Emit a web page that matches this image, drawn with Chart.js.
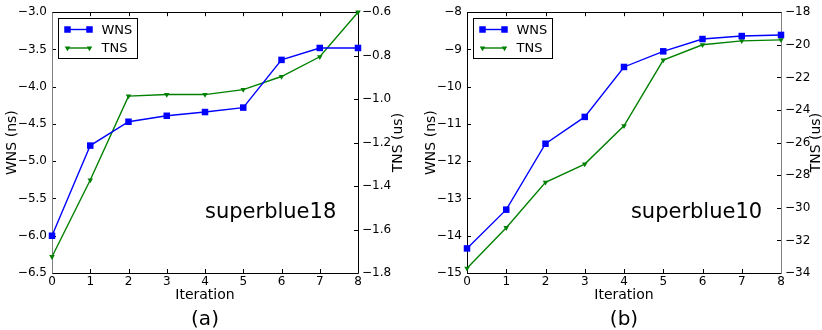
<!DOCTYPE html>
<html>
<head>
<meta charset="utf-8">
<script src="https://cdn.jsdelivr.net/npm/chart.js@4/dist/chart.umd.min.js"></script>
<style>
  html, body { margin: 0; padding: 0; background: #fff; }
  #wrap { position: relative; width: 822px; height: 330px; }
  canvas { position: absolute; top: 0; }
</style>
</head>
<body>
<div id="wrap">
  <canvas id="panelA" width="411" height="330" style="left:0"></canvas>
  <canvas id="panelB" width="411" height="330" style="left:411px"></canvas>
</div>
<script>
// Optimisation iterations shared by both designs
const iterations = [0, 1, 2, 3, 4, 5, 6, 7, 8];

// superblue18: worst negative slack (ns) and total negative slack (us)
const wns18 = [-6.00, -4.79, -4.47, -4.39, -4.34, -4.28, -3.64, -3.48, -3.48];
const tns18 = [-1.725, -1.372, -0.986, -0.979, -0.979, -0.956, -0.896, -0.805, -0.600];

// superblue10: worst negative slack (ns) and total negative slack (us)
const wns10 = [-14.34, -13.30, -11.53, -10.81, -9.47, -9.05, -8.72, -8.64, -8.61];
const tns10 = [-33.71, -31.22, -28.44, -27.32, -24.97, -20.94, -20.00, -19.76, -19.70];

// Axis tick values
const wnsTicks18 = [-6.5, -6.0, -5.5, -5.0, -4.5, -4.0, -3.5, -3.0];
const tnsTicks18 = [-1.8, -1.6, -1.4, -1.2, -1.0, -0.8, -0.6];
const wnsTicks10 = [-15, -14, -13, -12, -11, -10, -9, -8];
const tnsTicks10 = [-34, -32, -30, -28, -26, -24, -22, -20, -18];

const seriesNames = ['WNS', 'TNS'];
const FONT = 'DejaVu Sans';
Chart.defaults.color = '#000';
Chart.defaults.font.family = FONT;

function fmt(v, digits) {
  return (v < 0 ? '\u2212' : '') + Math.abs(v).toFixed(digits);
}

function useTicks(values) {
  return function (scale) { scale.ticks = values.map(v => ({ value: v })); };
}

// Frame with inward tick marks on all four sides (drawn under the data)
const framePlugin = {
  id: 'frame',
  beforeDatasetsDraw(chart, args, o) {
    const { ctx, chartArea: a, scales } = chart;
    const L = 4;
    ctx.save();
    ctx.lineWidth = 1;
    ctx.strokeStyle = '#000';
    ctx.beginPath();
    scales.x.ticks.forEach(t => {
      const px = Math.round(scales.x.getPixelForValue(t.value)) + 0.5;
      ctx.moveTo(px, a.bottom); ctx.lineTo(px, a.bottom - L);
      ctx.moveTo(px, a.top); ctx.lineTo(px, a.top + L);
    });
    scales.y.ticks.forEach(t => {
      const py = Math.round(scales.y.getPixelForValue(t.value)) + 0.5;
      ctx.moveTo(a.left, py); ctx.lineTo(a.left + L, py);
    });
    scales.y2.ticks.forEach(t => {
      const py = Math.round(scales.y2.getPixelForValue(t.value)) + 0.5;
      ctx.moveTo(a.right, py); ctx.lineTo(a.right - L, py);
    });
    ctx.stroke();
    const l = Math.round(a.left) + 0.5, r = Math.round(a.right) + 0.5;
    const t = Math.round(a.top) + 0.5, b = Math.round(a.bottom) + 0.5;
    ctx.beginPath();
    ctx.moveTo(l, t); ctx.lineTo(r, t);
    ctx.moveTo(l, b); ctx.lineTo(r, b);
    ctx.stroke();
    ctx.beginPath();
    ctx.strokeStyle = o.leftColor;
    ctx.moveTo(l, t); ctx.lineTo(l, b);
    ctx.stroke();
    ctx.beginPath();
    ctx.strokeStyle = o.rightColor;
    ctx.moveTo(r, t); ctx.lineTo(r, b);
    ctx.stroke();
    ctx.restore();
  }
};

// Boxed legend, design name, right-axis title (reading upwards) and panel letter
const notesPlugin = {
  id: 'notes',
  afterDatasetsDraw(chart, args, o) {
    const { ctx, chartArea: a } = chart;
    ctx.save();
    const bx = Math.round(a.left + 6) + 0.5, by = Math.round(a.top + 6) + 0.5;
    const bw = 79, bh = 40;
    ctx.fillStyle = '#fff';
    ctx.strokeStyle = '#000';
    ctx.lineWidth = 1;
    ctx.fillRect(bx, by, bw, bh);
    ctx.strokeRect(bx, by, bw, bh);
    chart.data.datasets.forEach((ds, i) => {
      const cy = by + 11 + i * 18.5;
      const x1 = bx + 9, x2 = bx + 31;
      ctx.strokeStyle = ds.borderColor;
      ctx.lineWidth = ds.borderWidth;
      ctx.beginPath(); ctx.moveTo(x1, cy); ctx.lineTo(x2, cy); ctx.stroke();
      [x1, x2].forEach(px => {
        ctx.fillStyle = ds.backgroundColor;
        ctx.strokeStyle = ds.borderColor;
        Chart.helpers.drawPoint(ctx, {
          pointStyle: ds.pointStyle, radius: ds.pointRadius,
          rotation: ds.pointRotation || 0, borderWidth: 0
        }, px, cy);
      });
      ctx.fillStyle = '#000';
      ctx.font = '13px "' + FONT + '"';
      ctx.textAlign = 'left';
      ctx.textBaseline = 'middle';
      ctx.fillText(ds.label, bx + 43, cy + 1);
    });
    ctx.fillStyle = '#000';
    ctx.font = '21px "' + FONT + '"';
    ctx.textAlign = 'left';
    ctx.textBaseline = 'middle';
    ctx.fillText(o.name, a.left + o.nameX * (a.right - a.left), a.top + 0.77 * (a.bottom - a.top));
    ctx.font = '20px "' + FONT + '"';
    ctx.textAlign = 'center';
    ctx.fillText(o.letter, (a.left + a.right) / 2, 320);
    ctx.save();
    ctx.translate(o.rightTitleX, (a.top + a.bottom) / 2);
    ctx.rotate(-Math.PI / 2);
    ctx.font = '14px "' + FONT + '"';
    ctx.textAlign = 'center';
    ctx.textBaseline = 'middle';
    ctx.fillText(o.rightTitle, 0, 0);
    ctx.restore();
    ctx.restore();
  }
};

function makePanel(id, p) {
  const pts = arr => arr.map((v, i) => ({ x: iterations[i], y: v }));
  return new Chart(document.getElementById(id), {
    type: 'line',
    data: {
      datasets: [
        {
          label: seriesNames[0], data: pts(p.wns), yAxisID: 'y',
          borderColor: '#0000ff', backgroundColor: '#0000ff', borderWidth: 1.4,
          pointStyle: 'rect', pointRadius: 4.6, pointHoverRadius: 4.6,
          pointBorderWidth: 0, tension: 0, clip: false
        },
        {
          label: seriesNames[1], data: pts(p.tns), yAxisID: 'y2',
          borderColor: '#008000', backgroundColor: '#008000', borderWidth: 1.4,
          pointStyle: 'triangle', pointRotation: 180,
          pointRadius: 3.2, pointHoverRadius: 3.2,
          pointBorderWidth: 0, tension: 0, clip: false
        }
      ]
    },
    options: {
      responsive: false,
      animation: false,
      events: [],
      layout: { padding: { top: 12, left: 0, right: 0, bottom: 0 } },
      plugins: {
        legend: { display: false },
        tooltip: { enabled: false },
        frame: { leftColor: p.leftSpine, rightColor: p.rightSpine },
        notes: { name: p.name, letter: p.letter, nameX: p.nameX, rightTitle: 'TNS (us)', rightTitleX: p.rightTitleX }
      },
      scales: {
        x: {
          type: 'linear', min: 0, max: 8,
          afterBuildTicks: useTicks(iterations),
          afterFit: s => { s.height = 57; },
          grid: { display: false, drawTicks: false },
          border: { display: false },
          ticks: { font: { size: 12 }, padding: 2, maxRotation: 0, autoSkip: false },
          title: { display: true, text: 'Iteration', font: { size: 14 }, padding: { top: 0, bottom: 26.6 } }
        },
        y: {
          position: 'left', min: p.wnsTicks[0], max: p.wnsTicks[p.wnsTicks.length - 1],
          afterBuildTicks: useTicks(p.wnsTicks),
          afterFit: s => { s.width = p.leftW; },
          grid: { display: false, drawTicks: false },
          border: { display: false },
          ticks: { font: { size: 12 }, padding: 5, callback: v => fmt(v, p.wnsDigits) },
          title: { display: true, text: 'WNS (ns)', font: { size: 14 }, padding: { top: p.leftTitlePad } }
        },
        y2: {
          position: 'right', min: p.tnsTicks[0], max: p.tnsTicks[p.tnsTicks.length - 1],
          afterBuildTicks: useTicks(p.tnsTicks),
          afterFit: s => { s.width = p.rightW; },
          grid: { display: false, drawTicks: false },
          border: { display: false },
          ticks: { font: { size: 12 }, padding: 4, callback: v => fmt(v, p.tnsDigits) }
        }
      }
    },
    plugins: [framePlugin, notesPlugin]
  });
}

makePanel('panelA', {
  wns: wns18, tns: tns18, wnsTicks: wnsTicks18, tnsTicks: tnsTicks18,
  wnsDigits: 1, tnsDigits: 1, leftW: 52, rightW: 53,
  leftTitlePad: 3.6, rightTitleX: 398.5,
  leftSpine: '#808080', rightSpine: '#000',
  name: 'superblue18', nameX: 0.5, letter: '(a)'
});

makePanel('panelB', {
  wns: wns10, tns: tns10, wnsTicks: wnsTicks10, tnsTicks: tnsTicks10,
  wnsDigits: 0, tnsDigits: 0, leftW: 56, rightW: 41,
  leftTitlePad: 11.6, rightTitleX: 405,
  leftSpine: '#000', rightSpine: '#808080',
  name: 'superblue10', nameX: 0.522, letter: '(b)'
});
</script>
</body>
</html>
